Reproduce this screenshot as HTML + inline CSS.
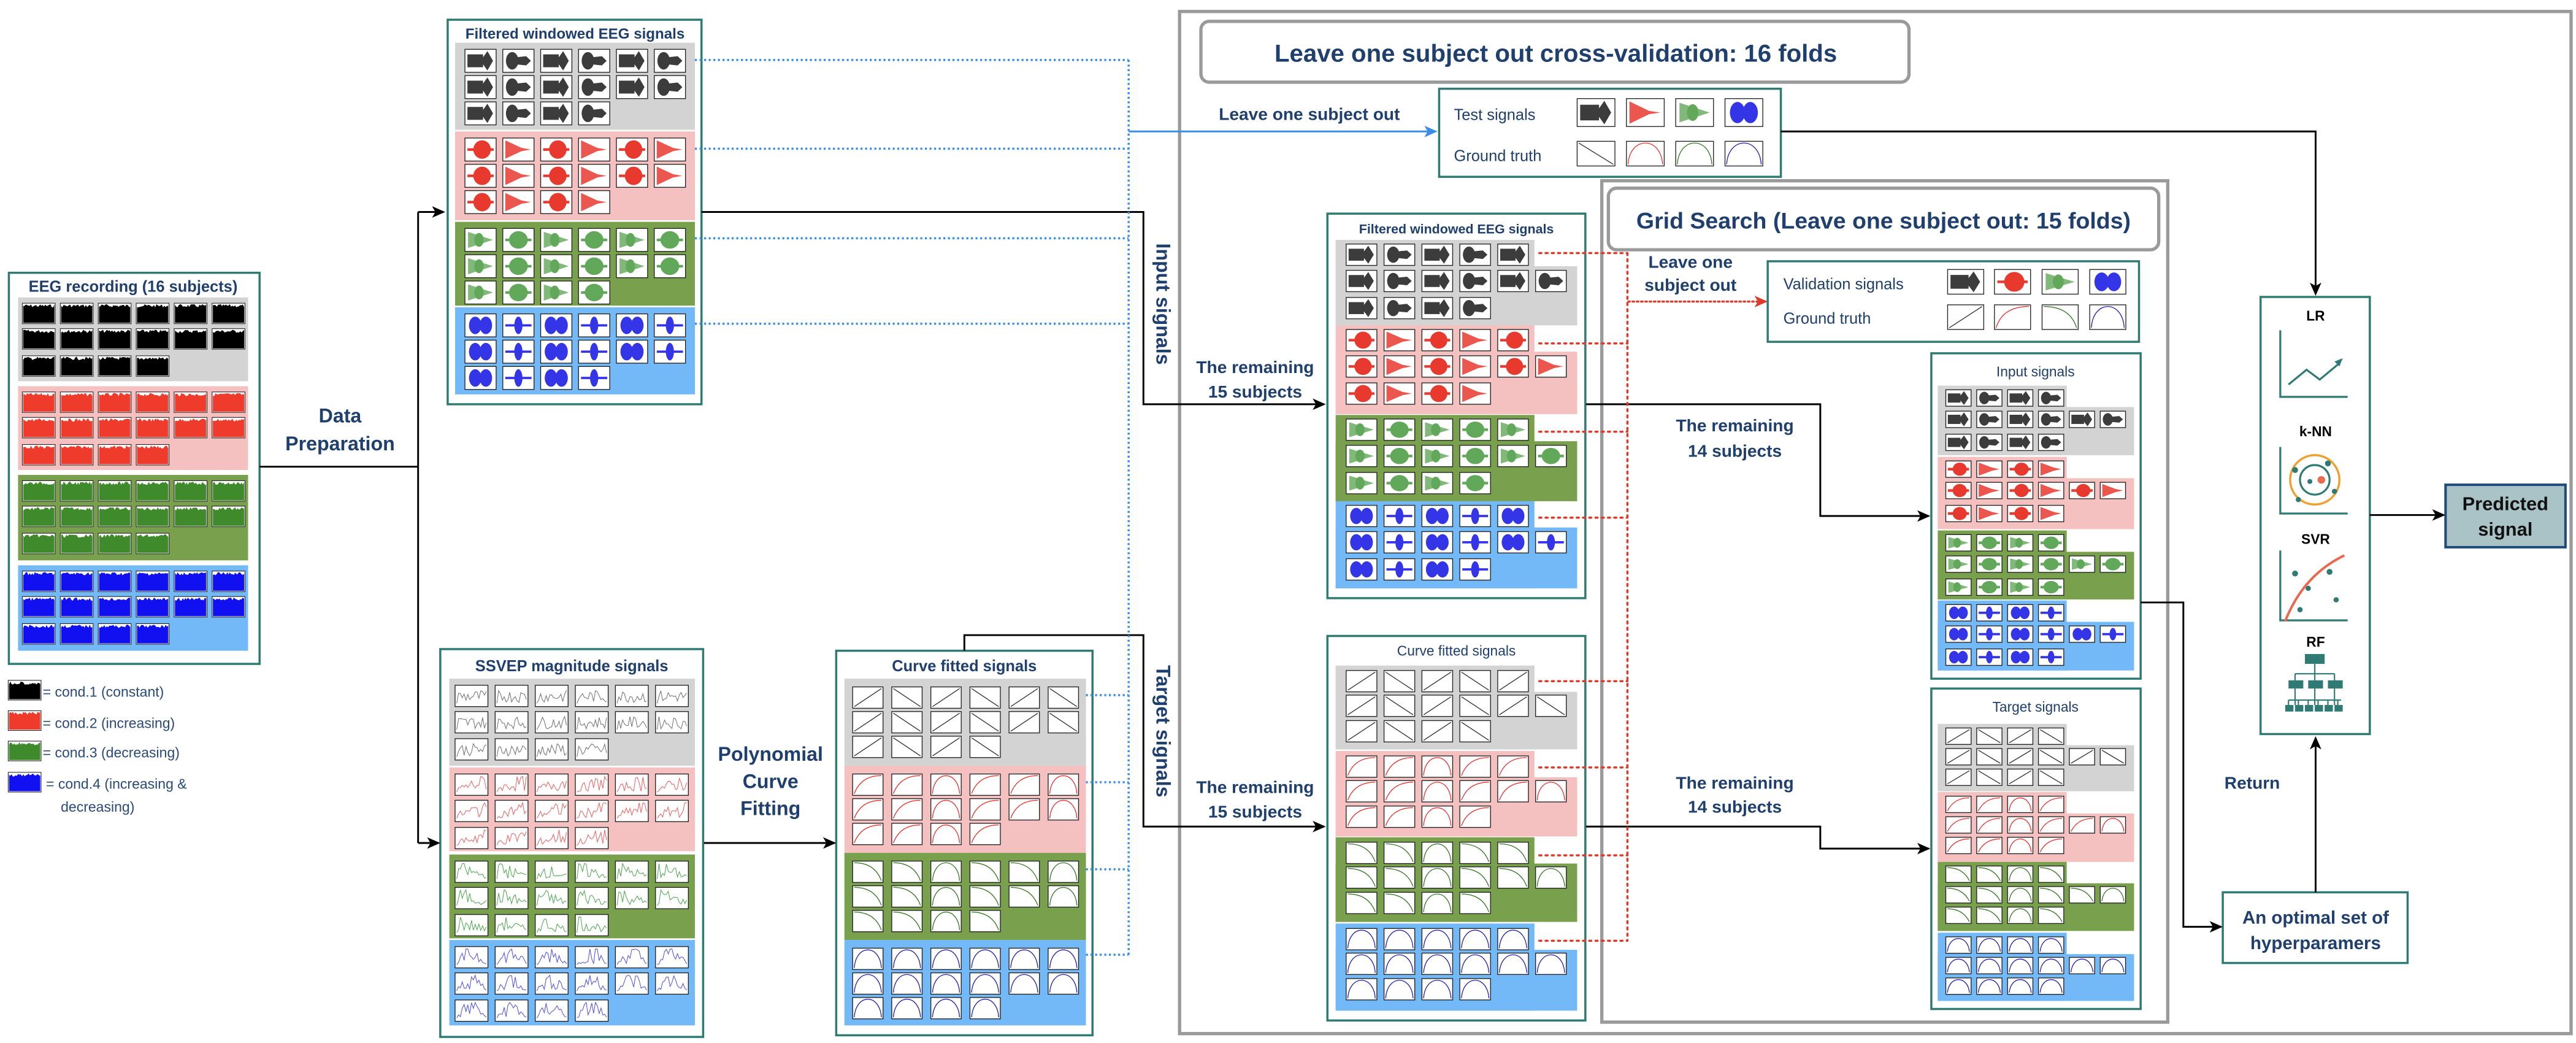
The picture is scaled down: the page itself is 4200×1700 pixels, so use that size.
<!DOCTYPE html>
<html><head><meta charset="utf-8">
<style>
html,body{margin:0;padding:0;background:#fff;}
svg{display:block;}
text{font-family:"Liberation Sans",sans-serif;}
.nv{fill:#1f3f6e;}
.b{font-weight:bold;}
</style></head>
<body>
<svg id="s" xmlns="http://www.w3.org/2000/svg" width="4200" height="1700" viewBox="0 0 1568 634.7" preserveAspectRatio="none">
<defs>
<marker id="ak" markerWidth="8" markerHeight="8" refX="7" refY="4" orient="auto" markerUnits="userSpaceOnUse"><path d="M0,0.5 L8,4 L0,7.5 L2,4z" fill="#000"/></marker>
<marker id="ab" markerWidth="8" markerHeight="8" refX="7" refY="4" orient="auto" markerUnits="userSpaceOnUse"><path d="M0,0.5 L8,4 L0,7.5 L2,4z" fill="#3a8ee6"/></marker>
<marker id="ar" markerWidth="8" markerHeight="8" refX="7" refY="4" orient="auto" markerUnits="userSpaceOnUse"><path d="M0,0.5 L8,4 L0,7.5 L2,4z" fill="#e03a2a"/></marker>
</defs>
<g id="bg"></g>
<g id="icons"></g>

<rect x="718" y="7" width="847" height="622" fill="none" stroke="#9a9a9a" stroke-width="2"/>
<rect x="731" y="13" width="431" height="37" rx="5" fill="#fff" stroke="#9a9a9a" stroke-width="2"/>
<text x="947" y="37.5" text-anchor="middle" font-size="15" class="nv b">Leave one subject out cross-validation: 16 folds</text>
<rect x="975" y="110" width="344.5" height="512" fill="none" stroke="#9a9a9a" stroke-width="2"/>
<rect x="979" y="114.5" width="335" height="37.5" rx="5" fill="#fff" stroke="#9a9a9a" stroke-width="2"/>
<text x="1146.5" y="139" text-anchor="middle" font-size="14" class="nv b">Grid Search (Leave one subject out: 15 folds)</text>

<g fill="none" stroke="#2f7a72" stroke-width="1.3">
<rect x="5.4" y="166" width="152.6" height="238"/>
<rect x="272.5" y="12" width="154.5" height="234"/>
<rect x="268" y="395" width="160" height="236"/>
<rect x="509" y="396" width="156" height="234"/>
<rect x="876" y="54" width="208" height="53.6"/>
<rect x="808" y="130" width="157" height="234"/>
<rect x="808" y="387" width="157" height="234"/>
<rect x="1076" y="159" width="226" height="49"/>
<rect x="1175.6" y="215" width="127.4" height="198"/>
<rect x="1175.6" y="419" width="127.4" height="195"/>
<rect x="1353" y="543" width="112.5" height="43"/>
<rect x="1376" y="180.7" width="66.5" height="266"/>
</g>
<rect x="1488.6" y="295" width="73" height="38" fill="#a9c3c6" stroke="#1f4a7a" stroke-width="1.5"/>

<text x="81" y="177.5" text-anchor="middle" font-size="9.5" class="nv b">EEG recording (16 subjects)</text>
<text x="350" y="23.5" text-anchor="middle" font-size="9" class="nv b">Filtered windowed EEG signals</text>
<text x="348" y="408.5" text-anchor="middle" font-size="9.5" class="nv b">SSVEP magnitude signals</text>
<text x="587" y="408.5" text-anchor="middle" font-size="9.5" class="nv b">Curve fitted signals</text>
<text x="886.5" y="142" text-anchor="middle" font-size="8" class="nv b">Filtered windowed EEG signals</text>
<text x="886.5" y="399" text-anchor="middle" font-size="8.5" class="nv">Curve fitted signals</text>
<text x="1239" y="229" text-anchor="middle" font-size="8.5" class="nv">Input signals</text>
<text x="1239" y="433" text-anchor="middle" font-size="8.5" class="nv">Target signals</text>
<text x="885" y="73" font-size="9.5" class="nv">Test signals</text>
<text x="885" y="98" font-size="9.5" class="nv">Ground truth</text>
<text x="1085.5" y="176" font-size="9.5" class="nv">Validation signals</text>
<text x="1085.5" y="197" font-size="9.5" class="nv">Ground truth</text>

<g font-size="8.6" fill="#2a4a7a">
<text x="26" y="424">= cond.1 (constant)</text>
<text x="26" y="443">= cond.2 (increasing)</text>
<text x="26" y="461">= cond.3 (decreasing)</text>
<text x="28" y="480">= cond.4 (increasing &amp;</text>
<text x="37" y="494">decreasing)</text>
</g>

<g font-size="12" class="nv b" text-anchor="middle">
<text x="207" y="257">Data</text>
<text x="207" y="274">Preparation</text>
<text x="469" y="463">Polynomial</text>
<text x="469" y="479.5">Curve</text>
<text x="469" y="496">Fitting</text>
<text x="708" y="185" transform="rotate(90 708 185)" dy="4">Input signals</text>
<text x="708" y="445" transform="rotate(90 708 445)" dy="4">Target signals</text>
</g>
<g font-size="10.5" class="nv" text-anchor="middle" font-weight="600">
<text x="797" y="73">Leave one subject out</text>
<text x="764" y="227">The remaining</text>
<text x="764" y="242">15 subjects</text>
<text x="764" y="482.5">The remaining</text>
<text x="764" y="497.5">15 subjects</text>
<text x="1056" y="262.5">The remaining</text>
<text x="1056" y="278">14 subjects</text>
<text x="1056" y="480">The remaining</text>
<text x="1056" y="494.5">14 subjects</text>
<text x="1029" y="163">Leave one</text>
<text x="1029" y="177">subject out</text>
<text x="1354" y="480" text-anchor="start">Return</text>
<text x="1409.5" y="562" font-size="11">An optimal  set of</text>
<text x="1409.5" y="577.5" font-size="11">hyperparamers</text>
</g>
<g font-size="8.5" font-weight="bold" fill="#000" text-anchor="middle">
<text x="1409.5" y="195">LR</text>
<text x="1409.5" y="265.5">k-NN</text>
<text x="1409.5" y="331">SVR</text>
<text x="1409.5" y="393.5">RF</text>
</g>
<text x="1525" y="310.5" text-anchor="middle" font-size="11.5" font-weight="bold" fill="#111">Predicted</text>
<text x="1525" y="326" text-anchor="middle" font-size="11.5" font-weight="bold" fill="#111">signal</text>

<g stroke="#2f7a72" fill="none" stroke-width="1.2">
<path d="M1388,201 V241.5 H1429"/>
<path d="M1393,234 L1404,225 L1412,231 L1424,221"/>
<path d="M1388,272 V312.5 H1429"/>
<circle cx="1409" cy="292" r="9"/>
<path d="M1388,335 V377.5 H1429"/>
</g>
<path d="M1421,220 L1426,218 L1424,223z" fill="#2f7a72"/>
<circle cx="1409" cy="292" r="15" fill="none" stroke="#f0a030" stroke-width="1.3"/>
<g fill="#2f7a72">
<circle cx="1397" cy="286" r="1.8"/><circle cx="1417" cy="282" r="1.8"/><circle cx="1406" cy="293" r="1.5"/><circle cx="1421" cy="299" r="1.6"/><circle cx="1399" cy="304" r="1.6"/>
<circle cx="1397" cy="349" r="1.8"/><circle cx="1418" cy="348" r="1.8"/><circle cx="1405" cy="358" r="1.6"/><circle cx="1422" cy="365" r="1.6"/><circle cx="1400" cy="371" r="1.6"/>
<rect x="1403" y="398" width="12" height="6"/>
<rect x="1393" y="414" width="9" height="5"/><rect x="1405" y="414" width="9" height="5"/><rect x="1417" y="414" width="9" height="5"/>
<rect x="1391" y="429" width="5" height="4"/><rect x="1397" y="429" width="5" height="4"/><rect x="1403" y="429" width="5" height="4"/><rect x="1409" y="429" width="5" height="4"/><rect x="1415" y="429" width="5" height="4"/><rect x="1421" y="429" width="5" height="4"/>
</g>
<circle cx="1413" cy="292" r="2.3" fill="#e86a50"/>
<path d="M1391,378 Q1402,350 1427,338" stroke="#e86a50" stroke-width="1.5" fill="none"/>
<g stroke="#2f7a72" stroke-width="0.8" fill="none">
<path d="M1409,404 V414 M1397,410 H1421 M1397,410 V414 M1421,410 V414 M1397,419 V429 M1409,419 V429 M1421,419 V429 M1393,426 H1425 M1393,426 V429 M1399,426 V429 M1405,426 V429 M1411,426 V429 M1417,426 V429 M1423,426 V429"/>
</g>

<g stroke="#000" stroke-width="1.1" fill="none">
<path d="M158,284 H254.5 M254.5,129 V513"/>
<path d="M254.5,129 H270" marker-end="url(#ak)"/>
<path d="M254.5,513 H267" marker-end="url(#ak)"/>
<path d="M428.5,513 H508" marker-end="url(#ak)"/>
<path d="M427,129 H696 V246 H806" marker-end="url(#ak)"/>
<path d="M587,396 V386.5 H696 V503 H806" marker-end="url(#ak)"/>
<path d="M1084,80 H1409.5 V179" marker-end="url(#ak)"/>
<path d="M965.4,246 H1108 V314 H1174" marker-end="url(#ak)"/>
<path d="M965.4,503 H1108 V516.4 H1174" marker-end="url(#ak)"/>
<path d="M1303,366.6 H1329 V564 H1352" marker-end="url(#ak)"/>
<path d="M1409.5,543 V449" marker-end="url(#ak)"/>
<path d="M1442.5,313.4 H1487.5" marker-end="url(#ak)"/>
</g>
<g stroke="#3a8ee6" stroke-width="1.3" fill="none" stroke-dasharray="1.2,1.6">
<path d="M423,36.5 H687 M423,90.5 H687 M423,145 H687 M423,197 H687 M687,36.5 V581 M661,423 H687 M661,476 H687 M661,529 H687 M661,581 H687"/>
</g>
<path d="M687,80 H874" stroke="#3a8ee6" stroke-width="1.1" fill="none" marker-end="url(#ab)"/>
<g stroke="#e03a2a" stroke-width="1.3" fill="none" stroke-dasharray="1.2,2.6" stroke-linecap="round">
<path d="M937,154 H990.6 M937,209 H990.6 M937,262.7 H990.6 M937,315 H990.6 M937,414.5 H990.6 M937,467 H990.6 M937,520.5 H990.6 M937,572.5 H990.6 M990.6,154 V572.5"/>
</g>
<path d="M990.6,183.5 H1075" stroke="#e03a2a" stroke-width="1.2" fill="none" stroke-dasharray="2,0.6" marker-end="url(#ar)"/>
</svg>
<script>
(function(){
var NS='http://www.w3.org/2000/svg';
var bg=document.getElementById('bg'), ic=document.getElementById('icons');
function el(p,tag,a){var e=document.createElementNS(NS,tag);for(var k in a)e.setAttribute(k,a[k]);p.appendChild(e);return e;}
var SEC=['#d3d3d3','#f5c1c0','#79a04d','#74b9f7'];
var WC=['#3c3c3c','#e8392f','#62a85a','#3535e8'];
var SC=['#777','#e66','#5a5','#55e'];
var CC=['#333','#e33','#3a7a2a','#22b'];
var seed=7;function rnd(){seed=(seed*9301+49297)%233280;return seed/233280;}
function box(g,x,y,w,h){el(g,'rect',{x:x,y:y,width:w,height:h,fill:'#fff',stroke:'#222','stroke-width':0.5});}
function icon(kind,s,c,x,y,w,h){
 var g=el(ic,'g',{});
 if(kind=='eeg'){
  el(g,'rect',{x:x,y:y,width:w,height:h,fill:'#fff',stroke:'#222','stroke-width':0.4});
  var d='M'+(x+0.5)+','+(y+h-0.5);
  for(var i=0;i<=24;i++){d+=' L'+(x+0.5+i*(w-1)/24)+','+(y+0.6+rnd()*2);}
  d+=' L'+(x+w-0.5)+','+(y+h-0.5)+'z';
  el(g,'path',{d:d,fill:s==0?'#000':(s==1?'#ee3b2b':s==2?'#3f8a2a':'#1010f0')});
 } else if(kind=='win'){
  box(g,x,y,w,h);
  var cy=y+h/2, col=WC[s];
  var t=c%2;
  if(s==0){ if(t){el(g,'ellipse',{cx:x+w*0.3,cy:cy,rx:w*0.2,ry:h*0.38,fill:col});el(g,'path',{d:'M'+(x+w*0.4)+','+(cy-h*0.15)+' L'+(x+w*0.75)+','+(cy-h*0.2)+' L'+(x+w*0.9)+','+cy+' L'+(x+w*0.75)+','+(cy+h*0.2)+' L'+(x+w*0.4)+','+(cy+h*0.15)+'z',fill:col});}
   else{el(g,'rect',{x:x+w*0.08,y:cy-h*0.28,width:w*0.5,height:h*0.56,fill:col});el(g,'path',{d:'M'+(x+w*0.5)+','+cy+' L'+(x+w*0.72)+','+(y+h*0.08)+' L'+(x+w*0.9)+','+cy+' L'+(x+w*0.72)+','+(y+h*0.92)+'z',fill:col});}}
  else if(s==1){ if(t){el(g,'path',{d:'M'+(x+w*0.08)+','+(y+h*0.1)+' L'+(x+w*0.6)+','+(cy-1)+' L'+(x+w*0.9)+','+cy+' L'+(x+w*0.6)+','+(cy+1)+' L'+(x+w*0.08)+','+(y+h*0.9)+'z',fill:col,opacity:0.85});}
   else{el(g,'ellipse',{cx:x+w*0.55,cy:cy,rx:w*0.28,ry:h*0.4,fill:col});el(g,'rect',{x:x+w*0.08,y:cy-0.8,width:w*0.84,height:1.6,fill:col});}}
  else if(s==2){ if(t){el(g,'ellipse',{cx:x+w*0.5,cy:cy,rx:w*0.3,ry:h*0.38,fill:col});el(g,'rect',{x:x+w*0.08,y:cy-0.8,width:w*0.84,height:1.6,fill:col});}
   else{el(g,'path',{d:'M'+(x+w*0.1)+','+(y+h*0.15)+' L'+(x+w*0.1)+','+(y+h*0.85)+' L'+(x+w*0.9)+','+cy+'z',fill:col,opacity:0.8});el(g,'ellipse',{cx:x+w*0.45,cy:cy,rx:w*0.15,ry:h*0.3,fill:col});}}
  else { if(t){el(g,'ellipse',{cx:x+w*0.5,cy:cy,rx:w*0.13,ry:h*0.38,fill:col});el(g,'rect',{x:x+w*0.08,y:cy-0.7,width:w*0.84,height:1.4,fill:col});}
   else{el(g,'ellipse',{cx:x+w*0.33,cy:cy,rx:w*0.2,ry:h*0.38,fill:col});el(g,'ellipse',{cx:x+w*0.67,cy:cy,rx:w*0.2,ry:h*0.38,fill:col});}}
 } else if(kind=='ss'){
  box(g,x,y,w,h);
  var d='M'+(x+1)+','+(y+h-2);
  for(var i=1;i<=16;i++){var f=i/16;var base;
   if(s==0)base=0.5;else if(s==1)base=0.2+0.6*f;else if(s==2)base=0.8-0.6*f;else base=0.8*Math.sin(Math.PI*f);
   d+=' L'+(x+1+f*(w-2))+','+(y+h-1.5-(h-3)*Math.min(1,base*rnd()*1.5+0.1));}
  el(g,'path',{d:d,fill:'none',stroke:SC[s],'stroke-width':0.4});
 } else {
  box(g,x,y,w,h);
  var x1=x+1,x2=x+w-1,y1=y+1,y2=y+h-1,d,xm=(x1+x2)/2,ya=y1-(h-2)*0.33;
  if(s==0)d=(c%2==0)?'M'+x1+','+y2+' L'+x2+','+y1:'M'+x1+','+y1+' L'+x2+','+y2;
  else if(s==1)d=(c%3!=2)?'M'+x1+','+y2+' Q'+(x1+4)+','+y1+' '+x2+','+y1:'M'+x1+','+y2+' C'+(x1+1)+','+ya+' '+(x2-1)+','+ya+' '+x2+','+y2;
  else if(s==2)d=(c%3!=2)?'M'+x1+','+y1+' Q'+(x2-4)+','+y1+' '+x2+','+y2:'M'+x1+','+y2+' C'+(x1+1)+','+ya+' '+(x2-1)+','+ya+' '+x2+','+y2;
  else d='M'+x1+','+y2+' C'+(x1+1)+','+ya+' '+(x2-1)+','+ya+' '+x2+','+y2;
  el(g,'path',{d:d,fill:'none',stroke:CC[s],'stroke-width':0.5});
 }
}
function grid(o){
 for(var s=0;s<4;s++){
  var top=o.tops[s][0],hh=o.tops[s][1];
  if(o.narrow){el(bg,'rect',{x:o.bx,y:top,width:o.nw,height:hh,fill:SEC[s]});el(bg,'rect',{x:o.bx,y:top+o.nh,width:o.bw,height:hh-o.nh,fill:SEC[s]});}
  else el(bg,'rect',{x:o.bx,y:top,width:o.bw,height:hh,fill:SEC[s]});
  for(var r=0;r<3;r++)for(var c=0;c<o.counts[r];c++)
   icon(o.kind,s,c,o.x0+c*o.dx,top+o.off[r],o.w,o.h);
 }
}
grid({kind:'eeg',bx:11,bw:140,tops:[[181,51],[235,51],[289,52],[344,52]],x0:13.6,dx:23.1,w:20,h:12.5,off:[3.5,19,35.5],counts:[6,6,4]});
grid({kind:'win',bx:277,bw:146,tops:[[26,53],[80,54],[135,51],[187,53]],x0:283,dx:23.05,w:19,h:14,off:[4,20,36],counts:[6,6,4]});
grid({kind:'ss',bx:273.5,bw:149.5,tops:[[413,53],[467,51],[520,51],[572,52]],x0:277,dx:24.4,w:20,h:13,off:[4,20,36.5],counts:[6,6,4]});
grid({kind:'cv',bx:514,bw:147,tops:[[413,53],[466,53],[519,53],[572,52]],x0:519,dx:23.8,w:18.5,h:13,off:[5,20,35],counts:[6,6,4]});
grid({kind:'win',bx:813,bw:147,narrow:1,nw:121,nh:16,tops:[[146,52],[198,54],[252.5,52.5],[305,53]],x0:819.4,dx:23.06,w:18.7,h:13,off:[2.5,18.5,35],counts:[5,6,4]});
grid({kind:'cv',bx:813,bw:147,narrow:1,nw:121,nh:16,tops:[[405,51],[457,52],[509.5,51.5],[562,53]],x0:819.4,dx:23.06,w:18.7,h:13,off:[3,18,33.5],counts:[5,6,4]});
grid({kind:'win',bx:1179.5,bw:119.5,narrow:1,nw:78.5,nh:13,tops:[[234.7,42.3],[278,44],[322.8,42],[365.4,42.6]],x0:1184.4,dx:18.8,w:15.4,h:10,off:[2.5,15.5,29.5],counts:[4,6,4]});
grid({kind:'cv',bx:1179.5,bw:119.5,narrow:1,nw:78.5,nh:13,tops:[[440.5,41],[482,42.5],[524.5,42],[567.6,41.5]],x0:1184.4,dx:18.8,w:15.4,h:10,off:[2.5,15,27.5],counts:[4,6,4]});
var tx=[960,990,1020,1050],vx=[1185.5,1214,1243,1272];
for(var i=0;i<4;i++){icon('win',i,i==1?1:0,tx[i],60,23,17);icon('cv',i,i==0?1:2,tx[i],86,23,15);
 icon('win',i,0,vx[i],164,22,15);icon('cv',i,0,vx[i],185.5,22,15);}
var ly=[414,432.5,451,470];
for(var i=0;i<4;i++)icon('eeg',i,0,5,ly[i],20,12);
})();
</script>
</body></html>
